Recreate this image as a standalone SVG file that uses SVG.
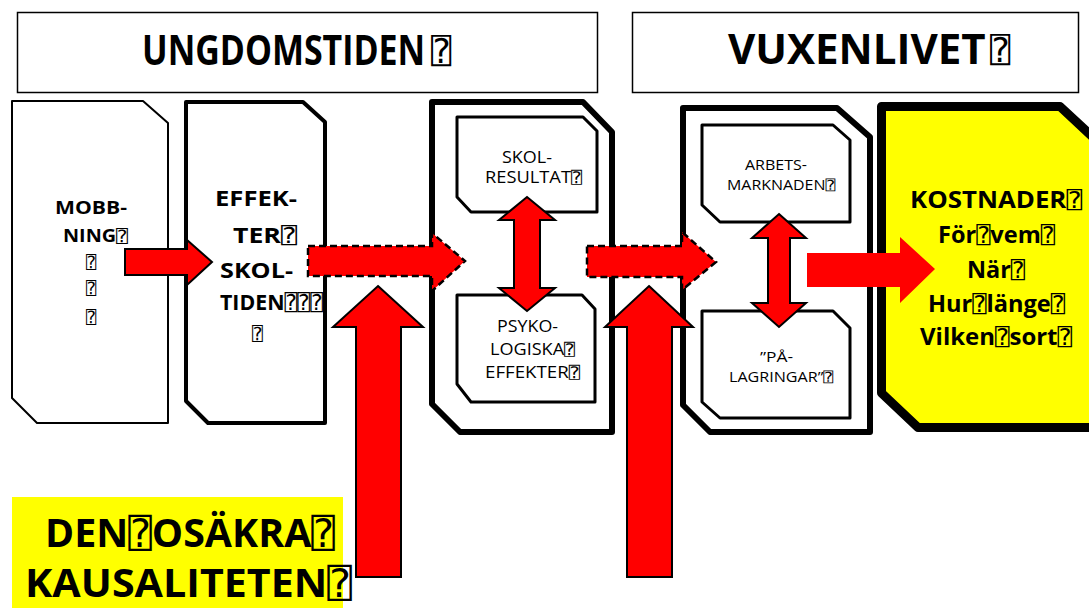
<svg xmlns="http://www.w3.org/2000/svg" width="1089" height="608" viewBox="0 0 1089 608">
<style>
.hdr{fill:#fff;stroke:#000;stroke-width:1.5}
.node{fill:#fff;stroke:#000;stroke-linejoin:round}
.t{font-family:"Open Sans","Liberation Sans",sans-serif;fill:#000}
.b{font-weight:bold}
.q{font-family:"DejaVu Sans Mono","DejaVu Sans",monospace;font-weight:normal}
.arr{fill:#ff0000;stroke:#000;stroke-width:2;stroke-linejoin:miter}
.dash{fill:#ff0000;stroke:#000;stroke-width:2.5;stroke-dasharray:7 4}
</style>
<rect width="1089" height="608" fill="#fff"/>

<g id="header-ungdomstiden">
<rect class="hdr" x="17.5" y="12.5" width="580" height="80"/>
<text class="t b" transform="translate(142,65) scale(0.8,1)" x="0" y="0" font-size="42" textLength="354" lengthAdjust="spacingAndGlyphs">UNGDOMSTIDEN</text>
<text class="t q" x="431" y="63" font-size="34">⍰</text>
</g>
<g id="header-vuxenlivet">
<rect class="hdr" x="632.5" y="12.5" width="446" height="80"/>
<text class="t b" transform="translate(728,64) scale(0.8,1)" x="0" y="0" font-size="42" textLength="322" lengthAdjust="spacingAndGlyphs">VUXENLIVET</text>
<text class="t q" x="990" y="62" font-size="34">⍰</text>
</g>

<g id="node-mobbning">
<polygon class="node" stroke-width="2" points="12,101 143,101 168,123 168,423 37,423 12,398"/>
<text class="t b" font-size="17">
<tspan x="55" y="214" textLength="72" lengthAdjust="spacingAndGlyphs">MOBB-</tspan>
<tspan x="63" y="242" textLength="65" lengthAdjust="spacingAndGlyphs">NING<tspan class="q">⍰</tspan></tspan>
<tspan class="q" x="86" y="268">⍰</tspan>
<tspan class="q" x="86" y="294">⍰</tspan>
<tspan class="q" x="86" y="323">⍰</tspan>
</text>
</g>

<g id="node-effekter-skoltiden">
<polygon class="node" stroke-width="4" points="186,102 303,102 325,122 325,423 208,423 186,401"/>
<text class="t b" font-size="22">
<tspan x="215" y="206" textLength="82" lengthAdjust="spacingAndGlyphs">EFFEK-</tspan>
<tspan x="233" y="243" textLength="64" lengthAdjust="spacingAndGlyphs">TER<tspan class="q">⍰</tspan></tspan>
<tspan x="220" y="278" textLength="73" lengthAdjust="spacingAndGlyphs">SKOL-</tspan>
<tspan x="220" y="310" textLength="103" lengthAdjust="spacingAndGlyphs">TIDEN<tspan class="q">⍰⍰⍰</tspan></tspan>
<tspan class="q" x="252" y="340" font-size="18">⍰</tspan>
</text>
</g>

<g id="node-skolan">
<polygon class="node" stroke-width="6" points="432,102 583,102 612,132 612,432 460,432 432,404"/>
</g>
<g id="node-skolresultat">
<polygon class="node" stroke-width="3" points="457,117 583,117 597,131 597,212 471,212 457,197"/>
<text class="t" font-size="16">
<tspan x="502" y="163" textLength="50" lengthAdjust="spacingAndGlyphs">SKOL-</tspan>
<tspan x="485" y="183" textLength="97" lengthAdjust="spacingAndGlyphs">RESULTAT<tspan class="q">⍰</tspan></tspan>
</text>
</g>
<g id="node-psykologiska">
<polygon class="node" stroke-width="3" points="457,295 582,295 595,309 595,402 471,402 457,384"/>
<text class="t" font-size="16">
<tspan x="497" y="332" textLength="61" lengthAdjust="spacingAndGlyphs">PSYKO-</tspan>
<tspan x="490" y="355" textLength="85" lengthAdjust="spacingAndGlyphs">LOGISKA<tspan class="q">⍰</tspan></tspan>
<tspan x="485" y="378" textLength="95" lengthAdjust="spacingAndGlyphs">EFFEKTER<tspan class="q">⍰</tspan></tspan>
</text>
</g>

<g id="node-vuxen">
<polygon class="node" stroke-width="6" points="683,108 837,108 870,137 870,432 710,432 683,405"/>
</g>
<g id="node-arbetsmarknaden">
<polygon class="node" stroke-width="3" points="702,125 833,125 850,140 850,222 720,222 702,205"/>
<text class="t" font-size="14">
<tspan x="745" y="170" textLength="62" lengthAdjust="spacingAndGlyphs">ARBETS-</tspan>
<tspan x="727" y="190" textLength="108" lengthAdjust="spacingAndGlyphs">MARKNADEN<tspan class="q">⍰</tspan></tspan>
</text>
</g>
<g id="node-palagringar">
<polygon class="node" stroke-width="3" points="702,311 833,311 850,328 850,418 720,418 702,402"/>
<text class="t" font-size="14">
<tspan x="760" y="362" textLength="33" lengthAdjust="spacingAndGlyphs">”PÅ-</tspan>
<tspan x="729" y="382" textLength="104" lengthAdjust="spacingAndGlyphs">LAGRINGAR”<tspan class="q">⍰</tspan></tspan>
</text>
</g>

<g id="node-kostnader">
<polygon stroke="#000" stroke-width="9" fill="#ffff00" stroke-linejoin="round" points="881.5,106.5 1060,106.5 1096,140 1096,427.5 918,427.5 881.5,393"/>
<text class="t b" font-size="23">
<tspan x="910" y="208" textLength="172" lengthAdjust="spacingAndGlyphs">KOSTNADER<tspan class="q">⍰</tspan></tspan>
<tspan x="938" y="243" textLength="117" lengthAdjust="spacingAndGlyphs">För<tspan class="q">⍰</tspan>vem<tspan class="q">⍰</tspan></tspan>
<tspan x="967" y="278" textLength="58" lengthAdjust="spacingAndGlyphs">När<tspan class="q">⍰</tspan></tspan>
<tspan x="928" y="312" textLength="137" lengthAdjust="spacingAndGlyphs">Hur<tspan class="q">⍰</tspan>länge<tspan class="q">⍰</tspan></tspan>
<tspan x="920" y="345" textLength="152" lengthAdjust="spacingAndGlyphs">Vilken<tspan class="q">⍰</tspan>sort<tspan class="q">⍰</tspan></tspan>
</text>
</g>

<g id="connectors">
<polygon class="arr" points="125,249 187,249 187,240 212,262 187,285 187,275 125,275"/>
<polygon class="dash" points="308,246 432,246 432,233 465,261 432,291 432,276 308,276"/>
<polygon class="dash" points="587,246 682,246 682,232 716,262 682,290 682,277 587,277"/>
<polygon fill="#ff0000" points="807,253 900,253 900,237 935,269 900,303 900,287 807,287"/>
<polygon class="arr" points="378,286 423,327 401,327 401,577 356,577 356,327 333,327"/>
<polygon class="arr" points="649,286 693,327 672,327 672,577 627,577 627,327 605,327"/>
<polygon class="arr" points="527,197 555,220 540,220 540,288 555,288 527,311 499,288 514,288 514,220 499,220"/>
<polygon class="arr" points="779,214 806,238 790,238 790,303 806,303 779,327 752,303 768,303 768,238 752,238"/>
</g>

<g id="label-osakra-kausaliteten">
<rect x="12" y="497" width="331" height="111" fill="#ffff00"/>
<text class="t b" font-size="39">
<tspan x="45" y="547" textLength="290" lengthAdjust="spacingAndGlyphs">DEN<tspan class="q">⍰</tspan>OSÄKRA<tspan class="q">⍰</tspan></tspan>
<tspan x="25" y="597" textLength="327" lengthAdjust="spacingAndGlyphs">KAUSALITETEN<tspan class="q">⍰</tspan></tspan>
</text>
</g>
</svg>
